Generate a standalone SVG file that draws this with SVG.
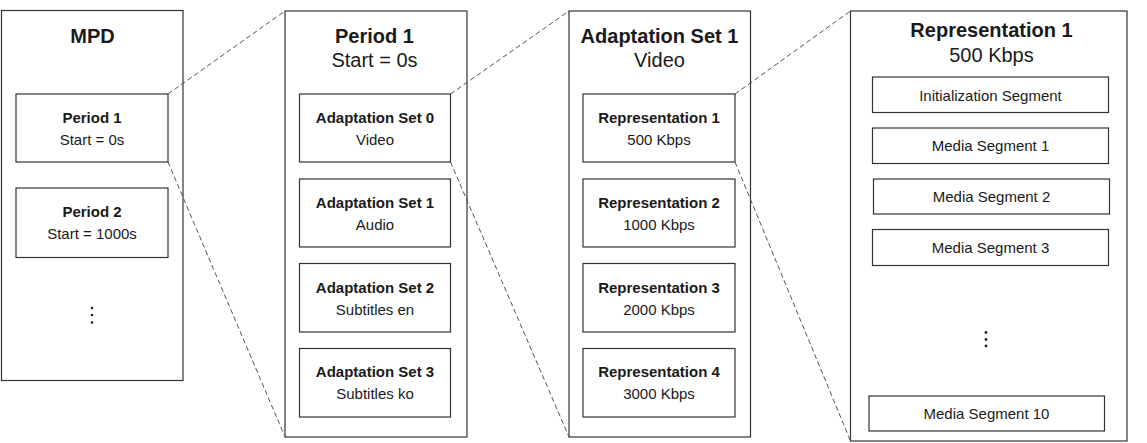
<svg xmlns="http://www.w3.org/2000/svg" width="1147" height="443" viewBox="0 0 1147 443">
<style>
.box{fill:#fff;stroke:#333;stroke-width:1.2}
.t{font-family:"Liberation Sans",Arial,sans-serif;fill:#1a1a1a;text-anchor:middle}
.h{font-size:20px;font-weight:bold}
.hs{font-size:20px}
.b{font-size:15px;font-weight:bold}
.r{font-size:15px}
.dash{stroke:#555;stroke-width:1;stroke-dasharray:5 3;fill:none}
.dot{fill:#222}
</style>
<rect width="1147" height="443" fill="#fff"/>
<g id="mpd">
<rect class="box" x="1.5" y="10.5" width="181.5" height="370"/>
<text class="t h" x="92.5" y="43">MPD</text>
<g class="dot"><circle cx="92" cy="308" r="1.3"/><circle cx="92" cy="315" r="1.3"/><circle cx="92" cy="322.5" r="1.3"/></g>
</g>
<g id="mpd-period1">
<rect class="box" x="16" y="94" width="152" height="68"/>
<text class="t b" x="92" y="122.5">Period 1</text>
<text class="t r" x="92" y="144.5">Start = 0s</text>
</g>
<g id="mpd-period2">
<rect class="box" x="16" y="188" width="152" height="69.5"/>
<text class="t b" x="92" y="217">Period 2</text>
<text class="t r" x="92" y="239">Start = 1000s</text>
</g>
<g id="period1">
<rect class="box" x="285" y="11" width="182" height="426"/>
<text class="t h" x="374.5" y="43">Period 1</text>
<text class="t hs" x="374.5" y="66.5">Start = 0s</text>
</g>
<g id="as0">
<rect class="box" x="299.5" y="94" width="151" height="68"/>
<text class="t b" x="375" y="122.5">Adaptation Set 0</text>
<text class="t r" x="375" y="144.5">Video</text>
</g>
<g id="as1">
<rect class="box" x="299.5" y="179" width="151" height="68"/>
<text class="t b" x="375" y="207.5">Adaptation Set 1</text>
<text class="t r" x="375" y="229.5">Audio</text>
</g>
<g id="as2">
<rect class="box" x="299.5" y="263.5" width="151" height="68.5"/>
<text class="t b" x="375" y="292.5">Adaptation Set 2</text>
<text class="t r" x="375" y="314.5">Subtitles en</text>
</g>
<g id="as3">
<rect class="box" x="299.5" y="348.5" width="151" height="68.5"/>
<text class="t b" x="375" y="377">Adaptation Set 3</text>
<text class="t r" x="375" y="399">Subtitles ko</text>
</g>
<g id="adaptation-set1">
<rect class="box" x="569" y="11" width="181.5" height="426"/>
<text class="t h" x="659.5" y="43">Adaptation Set 1</text>
<text class="t hs" x="659.5" y="66.5">Video</text>
</g>
<g id="rep1">
<rect class="box" x="583" y="94" width="152" height="68"/>
<text class="t b" x="659" y="122.5">Representation 1</text>
<text class="t r" x="659" y="144.5">500 Kbps</text>
</g>
<g id="rep2">
<rect class="box" x="583" y="179" width="152" height="68"/>
<text class="t b" x="659" y="207.5">Representation 2</text>
<text class="t r" x="659" y="229.5">1000 Kbps</text>
</g>
<g id="rep3">
<rect class="box" x="583" y="263.5" width="152" height="68.5"/>
<text class="t b" x="659" y="292.5">Representation 3</text>
<text class="t r" x="659" y="314.5">2000 Kbps</text>
</g>
<g id="rep4">
<rect class="box" x="583" y="348.5" width="152" height="68.5"/>
<text class="t b" x="659" y="377">Representation 4</text>
<text class="t r" x="659" y="399">3000 Kbps</text>
</g>
<g id="representation1">
<rect class="box" x="850.5" y="11" width="276.5" height="430"/>
<text class="t h" x="991.5" y="37">Representation 1</text>
<text class="t hs" x="991.5" y="61.5">500 Kbps</text>
<g class="dot"><circle cx="986" cy="332.5" r="1.4"/><circle cx="986" cy="339.5" r="1.4"/><circle cx="986" cy="346" r="1.4"/></g>
</g>
<g id="init-seg">
<rect class="box" x="872.5" y="77" width="236" height="35.5"/>
<text class="t r" x="990.5" y="100.5">Initialization Segment</text>
</g>
<g id="media-seg1">
<rect class="box" x="872.5" y="128" width="236" height="35.5"/>
<text class="t r" x="990.5" y="151">Media Segment 1</text>
</g>
<g id="media-seg2">
<rect class="box" x="873.5" y="179" width="236" height="35"/>
<text class="t r" x="991.5" y="202">Media Segment 2</text>
</g>
<g id="media-seg3">
<rect class="box" x="872.5" y="229.5" width="236" height="36"/>
<text class="t r" x="990.5" y="252.5">Media Segment 3</text>
</g>
<g id="media-seg10">
<rect class="box" x="869" y="396" width="235.5" height="35"/>
<text class="t r" x="986.5" y="419">Media Segment 10</text>
</g>
<g id="connectors">
<line class="dash" x1="168" y1="94" x2="285" y2="11"/>
<line class="dash" x1="168" y1="162" x2="285" y2="437"/>
<line class="dash" x1="450.5" y1="94" x2="569" y2="11"/>
<line class="dash" x1="450.5" y1="162" x2="569" y2="437"/>
<line class="dash" x1="735" y1="94" x2="850.5" y2="11"/>
<line class="dash" x1="735" y1="162" x2="850.5" y2="441"/>
</g>
</svg>
